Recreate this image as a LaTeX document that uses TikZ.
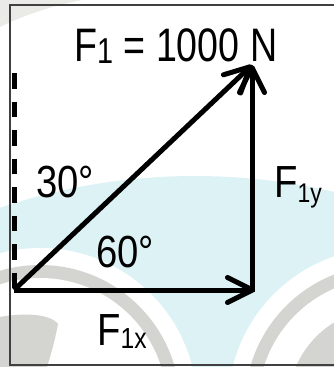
\documentclass[tikz,border=0pt]{standalone}
\usepackage{fontspec}
\newfontfamily\narrowsans[FakeStretch=0.85]{Liberation Sans}
\newfontfamily\titlesans[FakeStretch=0.8]{Liberation Sans}
\usetikzlibrary{arrows.meta}
\definecolor{wmcyan}{HTML}{DDF2F5}
\definecolor{wmgray}{HTML}{D4D4D0}
\definecolor{wmlight}{HTML}{EAEAE6}
\newcommand{\lowsub}[3]{\raisebox{-#2pt}{\fontsize{#1pt}{#1pt}\selectfont #3}}

\begin{document}
\begin{tikzpicture}[x=1pt, y=-1pt,
    vec/.style={line width=5pt, -{Straight Barb[length=25pt, width=25pt, round]}},
    lbl/.style={anchor=base west, inner sep=0pt, font=\narrowsans\fontsize{45pt}{45pt}\selectfont}]

    \useasboundingbox (0,0) rectangle (334,367);
    \clip (0,0) rectangle (334,367);

    %% watermark
    \fill[wmcyan] (195,788) circle (612);
    \foreach \cx in {40,385} {
      \fill[white] (\cx,405) circle (157);
      \fill[wmgray] (\cx,405) circle (140);
      \fill[white] (\cx,405) circle (127);
    }
    \fill[wmgray] (385,405) circle (97);
    \fill[wmgray] (0,367) -- (0,317) .. controls (20,313) and (50,313) .. (58,324)
      .. controls (54,345) and (50,357) .. (47,367) -- cycle;
    \fill[wmlight] (0,0) -- (82,0) .. controls (50,6) and (20,17) .. (0,27) -- cycle;

    %% frame
    \draw[black!75, line width=1.2pt] (10,5) rectangle (345,365);

    %% points
    \coordinate (O) at (14,290);
    \coordinate (X) at (255,290);
    \coordinate (C) at (252,292);
    \coordinate (T) at (252,65);
    \coordinate (D) at (14,73);

    %% reference line and vectors
    \draw[line width=5pt, dash pattern=on 15.5pt off 13pt] (D) -- (O);
    \draw[vec] (O) -- (X);
    \draw[vec] (C) -- (T);
    \draw[vec] (O) -- (T);

    %% labels
    \node[lbl, font=\titlesans\fontsize{47pt}{47pt}\selectfont] (title) at (74,61) {F\lowsub{36}{2}{1} = 1000 N};
    \node[lbl] (aup) at (36,197) {30°};
    \node[lbl] (alow) at (96,267) {60°};
    \node[lbl] (fy) at (274,197) {F\lowsub{27}{5}{1y}};
    \node[lbl] (fx) at (97,345) {F\lowsub{29}{3}{1x}};
\end{tikzpicture}
\end{document}
